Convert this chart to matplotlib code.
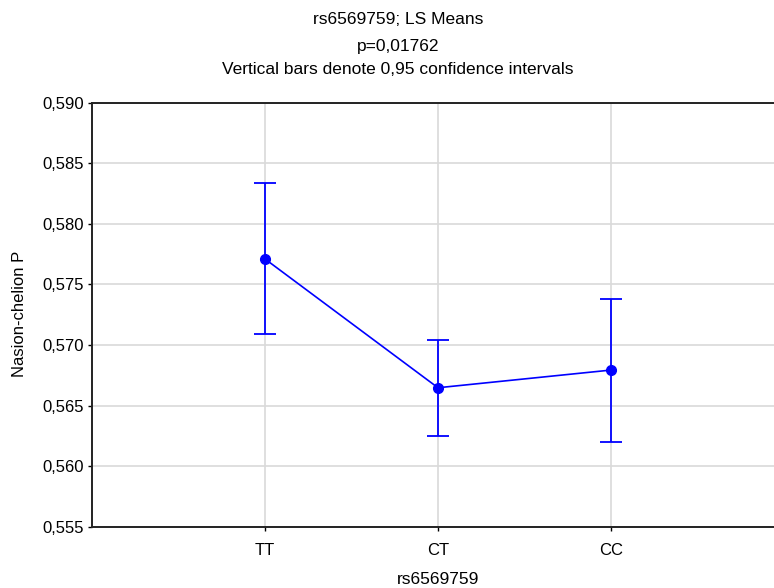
import matplotlib
matplotlib.use("Agg")
import matplotlib.pyplot as plt

plt.rcParams['font.family'] = ['Liberation Sans', 'DejaVu Sans']

categories = ["TT", "CT", "CC"]
means = [0.5771, 0.56647, 0.56793]
upper = [0.58337, 0.57041, 0.5738]
lower = [0.57088, 0.56248, 0.56199]
yticks = [0.555, 0.560, 0.565, 0.570, 0.575, 0.580, 0.585, 0.590]
ytick_labels = ["0,555", "0,560", "0,565", "0,570", "0,575", "0,580", "0,585", "0,590"]

fs = 12.5
tfs = 12

fig = plt.figure(figsize=(7.74, 5.88), dpi=100)
ax = fig.add_axes([92/774, (588-526.7)/588, 692/774, 424/588])

x = [1, 2, 3]
yerr = [[m - l for m, l in zip(means, lower)], [u - m for m, u in zip(means, upper)]]
ax.errorbar(x, means, yerr=yerr, color='#0000ff', marker='o', markersize=7,
            linewidth=1.2, elinewidth=1.3, capsize=8, capthick=1.3, zorder=3)

ax.set_xlim(0, 4)
ax.set_ylim(0.555, 0.590)
ax.set_xticks(x)
ax.set_xticklabels(categories)
ax.set_yticks(yticks)
ax.set_yticklabels(ytick_labels)
ax.grid(True, color='#d9d9d9', linewidth=1.2, zorder=0)
ax.set_axisbelow(True)
for s in ['top', 'bottom', 'left', 'right']:
    ax.spines[s].set_linewidth(1.4)
    ax.spines[s].set_color('#222222')
ax.tick_params(axis='both', direction='out', length=3, width=1, labelsize=tfs, colors='black')
ax.tick_params(axis='x', pad=9)
ax.tick_params(axis='y', pad=3)

fig.text(398/774, 1 - 20/588, "rs6569759; LS Means", ha='center', va='center', fontsize=fs)
fig.text(398/774, 1 - 46/588, "p=0,01762", ha='center', va='center', fontsize=fs)
fig.text(398/774, 1 - 70/588, "Vertical bars denote 0,95 confidence intervals", ha='center', va='center', fontsize=fs)
fig.text(438/774, 1 - 579/588, "rs6569759", ha='center', va='center', fontsize=fs)
fig.text(20/774, 1 - 314/588, "Nasion-chelion P", ha='center', va='center', rotation=90, fontsize=tfs)

fig.savefig("out.png", dpi=100)
